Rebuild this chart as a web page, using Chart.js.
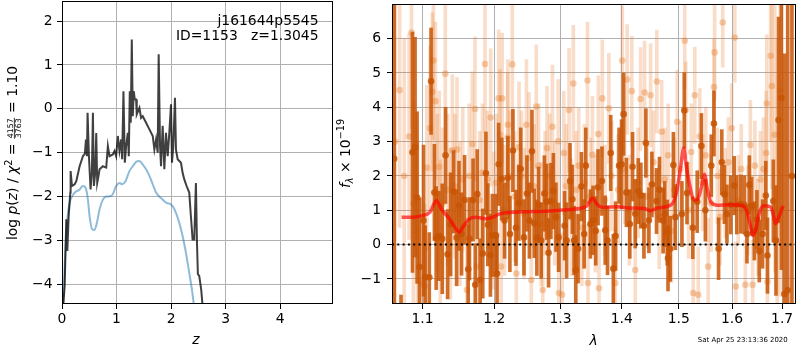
<!DOCTYPE html>
<html><head><meta charset="utf-8">
<script src="https://cdn.jsdelivr.net/npm/chart.js@4"></script>
<style>
html,body{margin:0;padding:0;background:#fff;width:800px;height:350px;overflow:hidden}
#cl{position:absolute;left:0;top:0}
#cr{position:absolute;left:335px;top:0}
</style></head><body>
<canvas id="cl" width="335" height="350"></canvas>
<canvas id="cr" width="465" height="350"></canvas>
<script>
// ---------------- data: left panel (redshift PDF) ----------------
const zBlack = [0.015,0.049,0.079,0.098,0.122,0.152,0.158,0.183,0.232,0.262,0.323,0.384,0.420,0.439,0.457,0.469,0.494,0.524,0.548,0.567,0.585,0.609,0.628,0.646,0.670,0.689,0.750,0.811,0.841,0.871,0.932,0.963,0.993,1.024,1.054,1.085,1.103,1.127,1.152,1.176,1.207,1.225,1.243,1.261,1.280,1.298,1.316,1.335,1.359,1.371,1.420,1.450,1.481,1.542,1.603,1.664,1.694,1.725,1.755,1.773,1.798,1.816,1.846,1.877,1.907,1.938,1.968,1.999,2.017,2.041,2.072,2.090,2.121,2.151,2.182,2.212,2.243,2.285,2.334,2.364,2.395,2.425,2.456,2.474,2.492,2.517,2.553,2.600];
const logpBlack = [-4.6,-4.04,-2.52,-3.24,-2.45,-1.91,-1.42,-1.76,-1.72,-1.65,-1.31,-1.08,-1.02,-0.70,-1.08,-0.09,-1.08,-1.84,-1.46,-0.09,-1.76,-1.46,-0.55,-1.69,-1.53,-1.38,-1.31,-1.34,-0.85,-1.08,-1.04,-0.96,-1.08,-0.62,-0.96,-0.70,-1.15,0.40,-1.23,-0.85,-0.55,-1.08,0.40,-0.32,1.58,-0.17,0.40,0.21,0.21,-0.13,0.02,-0.21,-0.17,-0.32,-0.47,-0.62,-0.93,-0.70,-1.00,1.24,-0.85,-1.31,-0.39,-1.38,-0.55,-1.08,-0.55,0.10,-1.23,-0.85,0.25,-0.93,-1.15,-1.19,-1.23,-1.46,-1.61,-1.76,-1.91,-2.45,-2.98,-2.98,-1.69,-2.98,-3.77,-3.81,-4.12,-4.8];
const zBlue = [0.018,0.049,0.079,0.110,0.140,0.171,0.232,0.323,0.384,0.433,0.475,0.506,0.555,0.597,0.640,0.689,0.750,0.811,0.902,0.945,0.993,1.054,1.103,1.164,1.237,1.298,1.359,1.420,1.481,1.542,1.603,1.664,1.725,1.785,1.846,1.907,1.968,2.029,2.090,2.151,2.212,2.273,2.334,2.383,2.440];
const logpBlue = [-4.6,-3.58,-2.82,-2.37,-2.14,-2.03,-1.91,-1.84,-1.76,-1.80,-2.07,-2.45,-2.75,-2.76,-2.60,-2.29,-2.07,-2.00,-1.99,-1.91,-1.76,-1.69,-1.72,-1.65,-1.42,-1.31,-1.21,-1.19,-1.27,-1.38,-1.53,-1.72,-1.91,-2.00,-2.07,-2.14,-2.16,-2.22,-2.37,-2.60,-2.90,-3.28,-3.74,-4.12,-4.7];
const zTicks = [0,1,2,3,4];
const logpTicks = [-4,-3,-2,-1,0,1,2];
const zRange = [0, 4.97];
const logpRange = [-4.449, 2.456];
const objName = 'j161644p5545';
const idText = 'ID=1153   z=1.3045';
const chi2Num = '4157', chi2Den = '3763', chi2Val = '1.10';

// ---------------- data: right panel (spectrum) ----------------
const lamDark = [1.0630,1.0718,1.0868,1.0902,1.0929,1.0960,1.1014,1.1036,1.1091,1.1115,1.1160,1.1184,1.1221,1.1267,1.1312,1.1340,1.1381,1.1423,1.1464,1.1497,1.1533,1.1575,1.1626,1.1644,1.1695,1.1726,1.1754,1.1795,1.1833,1.1878,1.1906,1.1943,1.1971,1.2024,1.2039,1.2063,1.2108,1.2149,1.2198,1.2228,1.2273,1.2318,1.2359,1.2389,1.2438,1.2483,1.2520,1.2559,1.2595,1.2634,1.2659,1.2700,1.2749,1.2784,1.2814,1.2850,1.2889,1.2929,1.2970,1.3065,1.3097,1.3151,1.3188,1.3216,1.3243,1.3280,1.3334,1.3378,1.3405,1.3480,1.3523,1.3567,1.3605,1.3669,1.3723,1.3762,1.3815,1.3859,1.3897,1.3956,1.3998,1.4033,1.4080,1.4138,1.4185,1.4232,1.4284,1.4329,1.4382,1.4416,1.4469,1.4521,1.4603,1.4655,1.4720,1.4747,1.4794,1.4807,1.4847,1.4904,1.4939,1.5059,1.5102,1.5152,1.5258,1.5340,1.5418,1.5493,1.5604,1.5654,1.5742,1.5803,1.5853,1.5902,1.5976,1.6042,1.6093,1.6173,1.6240,1.6292,1.6339,1.6385,1.6438,1.6490,1.6537,1.6603,1.6668,1.6702,1.6821,1.6875,1.6927,1.6986,1.7047,1.7116,1.7204];
const fDark = [2.5,-2.5,2.69,2.84,1.37,-0.65,0.70,-0.95,-0.95,4.76,1.52,0.19,0.25,0.17,2.60,-0.28,0.59,1.54,0.20,1.13,0.31,1.30,-0.72,0.17,1.30,-1.17,1.47,-1.03,-0.26,2.08,0.58,-0.31,0.27,0.27,-0.84,2.34,1.91,0.70,1.95,0.31,2.74,0.49,1.22,2.20,0.21,1.49,0.70,2.72,0.62,0.20,1.16,0.12,1.49,1.25,-0.24,1.27,1.56,0.80,0.21,0.55,0.12,1.85,1.32,0.12,-0.74,-0.12,1.69,0.31,2.30,0.60,0.71,0.40,1.67,1.85,0.42,0.12,2.67,-0.70,0.25,2.30,2.34,3.80,1.52,0.60,2.27,0.90,1.56,1.43,0.55,2.96,0.71,1.75,1.27,1.60,0.70,0.89,0.35,-0.40,-0.12,2.32,0.80,0.89,3.91,1.50,0.49,1.25,2.87,1.00,2.30,3.53,-0.12,2.40,1.46,0.89,1.16,1.72,1.16,1.18,1.16,0.31,1.74,1.12,0.40,0.73,-0.19,0.31,1.43,-0.32,1.27,0.12,3.63,4.27,-1.44,-1.33,2.0];
const eDark = [6,1.03,3.5,3.2,2.5,2.0,2.2,1.5,1.3,1.55,1.4,1.5,1.3,1.6,1.4,1.3,1.5,1.2,1.4,1.3,1.2,1.3,1.3,1.2,1.2,1.2,1.3,1.2,1.3,1.2,1.2,1.2,1.2,1.2,1.1,1.2,1.2,1.1,1.2,1.1,1.2,1.1,1.1,1.2,1.1,1.1,1.1,1.2,1.0,1.1,1.1,1.1,1.1,1.1,1.0,1.1,1.1,1.0,1.0,1.0,1.1,1.1,1.0,1.0,1.0,1.0,1.0,1.0,1.1,1.0,1.0,1.0,1.1,1.0,1.0,1.0,1.1,1.0,1.0,1.1,1.3,1.2,1.0,1.0,1.0,1.0,0.95,0.95,0.95,1.0,0.95,0.95,0.95,0.95,0.95,0.95,0.95,0.95,0.95,0.95,0.95,0.95,1.1,0.9,0.9,0.9,0.95,0.9,0.9,0.95,0.9,0.95,0.85,0.85,0.85,0.85,0.85,0.85,0.85,0.85,0.85,0.85,0.85,0.85,0.9,1.0,1.0,1.1,1.2,1.6,3.0,5,7,9,9,9];
const lamLight = [1.0640,1.0700,1.0760,1.0823,1.0855,1.0880,1.0934,1.0987,1.1030,1.1059,1.1101,1.1133,1.1146,1.1174,1.1200,1.1225,1.1239,1.1270,1.1308,1.1340,1.1380,1.1405,1.1440,1.1470,1.1510,1.1550,1.1608,1.1640,1.1685,1.1722,1.1746,1.1790,1.1830,1.1865,1.1900,1.1947,1.1990,1.2030,1.2063,1.2084,1.2099,1.2114,1.2150,1.2194,1.2198,1.2230,1.2264,1.2300,1.2324,1.2364,1.2400,1.2440,1.2475,1.2514,1.2549,1.2590,1.2625,1.2660,1.2700,1.2724,1.2760,1.2790,1.2830,1.2874,1.2910,1.2964,1.2974,1.3026,1.3053,1.3090,1.3135,1.3170,1.3204,1.3250,1.3290,1.3340,1.3380,1.3432,1.3440,1.3480,1.3513,1.3560,1.3610,1.3621,1.3675,1.3720,1.3784,1.3830,1.3891,1.3940,1.4010,1.4050,1.4092,1.4130,1.4172,1.4232,1.4280,1.4324,1.4393,1.4440,1.4498,1.4550,1.4608,1.4650,1.4695,1.4750,1.4810,1.4870,1.4920,1.4974,1.5030,1.5110,1.5128,1.5180,1.5230,1.5266,1.5295,1.5359,1.5388,1.5440,1.5500,1.5545,1.5600,1.5654,1.5667,1.5720,1.5770,1.5821,1.5870,1.5930,1.5994,1.6054,1.6074,1.6120,1.6180,1.6260,1.6310,1.6360,1.6405,1.6450,1.6510,1.6560,1.6620,1.6676,1.6688,1.6702,1.6767,1.6790,1.6850,1.6900,1.6960];
const fLight = [3.0,4.5,2.0,3.15,6.18,1.2,0.41,-1.12,-1.22,2.24,3.39,4.45,5.36,4.18,1.5,2.27,0.27,1.2,4.98,1.6,0.6,2.75,1.7,2.77,0.9,1.9,-1.32,2.0,2.93,3.95,-0.64,1.3,2.1,5.26,1.9,3.70,0.7,1.8,4.26,3.20,-0.64,4.26,1.0,3.12,3.49,2.0,5.25,1.4,-0.84,2.84,2.0,0.9,3.49,2.53,-1.03,1.7,4.02,2.3,0.6,-1.32,1.5,2.81,2.0,3.43,1.2,3.01,-1.41,-1.46,2.67,1.7,3.92,0.8,4.69,1.6,2.3,0.5,1.8,4.78,-1.12,1.4,2.62,0.9,3.22,-1.27,4.26,1.3,3.97,2.0,-1.12,1.6,5.36,2.2,4.81,1.0,4.47,-0.74,1.8,4.24,4.43,1.4,4.35,2.4,4.75,0.8,3.29,1.9,2.6,0.4,1.6,3.58,2.2,5.94,3.92,1.0,2.7,-1.41,4.35,-1.46,3.15,1.8,2.6,-0.64,1.2,4.59,5.60,2.0,0.8,6.47,1.5,2.4,3.39,6.03,-1.22,1.3,2.2,-1.17,1.0,2.9,-1.17,2.3,0.5,1.9,2.2,2.67,4.11,-1.08,5.50,4.62,3.2,1.0,4.5];
const eLight = [5.0,4.0,4.0,3.0,2.8,3.0,2.6,2.5,2.4,2.4,2.4,2.3,2.3,2.3,2.3,2.2,2.2,2.2,2.2,2.2,2.2,2.2,2.1,2.1,2.1,2.1,2.1,2.1,2.1,2.1,2.0,2.0,2.0,2.0,2.0,2.0,2.0,2.0,2.0,1.9,1.9,1.9,1.9,1.9,1.9,1.9,1.9,1.9,1.9,1.9,1.9,1.9,1.9,1.9,1.9,1.8,1.8,1.8,1.8,1.8,1.8,1.8,1.8,1.8,1.8,1.8,1.8,1.8,1.8,1.8,1.8,1.7,1.7,1.7,1.7,1.7,1.7,1.7,1.7,1.7,1.7,1.7,1.7,1.7,1.7,1.6,1.6,1.6,1.6,1.6,1.6,1.6,1.6,1.6,1.6,1.6,1.6,1.5,1.5,1.5,1.5,1.5,1.5,1.5,1.5,1.5,1.5,1.5,1.5,1.5,1.4,1.4,1.4,1.4,1.4,1.4,1.4,1.4,1.4,1.4,1.4,1.4,1.4,1.4,1.4,1.4,1.4,1.3,1.3,1.3,1.3,1.3,1.3,1.3,1.3,1.3,1.3,1.3,1.3,1.3,1.4,1.4,1.5,1.8,2.0,2.2,2.5,3.0,4.0,5.0,6.0];
const lamModel = [1.0726,1.0877,1.1008,1.1097,1.1187,1.1254,1.1367,1.1504,1.1550,1.1643,1.1737,1.1879,1.1974,1.2071,1.2265,1.2514,1.2767,1.3024,1.3288,1.3422,1.3514,1.3584,1.3666,1.3943,1.4111,1.4397,1.4484,1.4629,1.4865,1.4954,1.5034,1.5093,1.5135,1.5197,1.5289,1.5349,1.5424,1.5474,1.5535,1.5597,1.5723,1.5913,1.6169,1.6286,1.6353,1.6404,1.6463,1.6530,1.6630,1.6762,1.6817,1.6864,1.6932,1.7020];
const fModel = [0.80,0.80,0.85,0.94,1.28,1.04,0.75,0.37,0.51,0.75,0.80,0.75,0.80,0.89,0.94,0.96,0.97,1.01,1.05,1.13,1.35,1.18,1.09,1.10,1.07,1.05,0.99,1.07,1.16,1.47,2.24,2.81,2.33,1.76,1.30,1.33,1.71,2.05,1.57,1.23,1.15,1.16,1.15,0.99,0.61,0.27,0.41,0.89,1.13,1.10,0.89,0.61,0.80,1.13];
const lamTicks = [1.1,1.2,1.3,1.4,1.5,1.6,1.7];
const fTicks = [-1,0,1,2,3,4,5,6];
const lamRange = [1.06017, 1.72887];
const fRange = [-1.730, 7.0095];
const zeroLevel = 0;
const dateText = 'Sat Apr 25 23:13:36 2020';

// ---------------- styling ----------------
Chart.defaults.font.family = "'DejaVu Sans'";
Chart.defaults.font.size = 13.9;
Chart.defaults.color = '#000';
const FS = 13.9;
const NF = FS + 'px "DejaVu Sans"', IF = 'italic ' + FS + 'px "DejaVu Sans"';
const SF = '9.7px "DejaVu Sans"', SIF = 'italic 9.7px "DejaVu Sans"';
const GRID = '#b0b0b0';
const minus = v => (v < 0 ? '\u2212' : '') + Math.abs(v);

function axisCommon(ticksArr, fitKey, fitVal, pad, fmt) {
  return {
    afterBuildTicks: s => { s.ticks = ticksArr.map(v => ({value: v})); },
    afterFit: s => {
      s[fitKey] = fitVal;
      s.paddingTop = 0; s.paddingBottom = 0; s.paddingLeft = 0; s.paddingRight = 0;
    },
    grid: {color: GRID, lineWidth: 1, tickColor: '#000', tickLength: 5, tickWidth: 1, offset: false},
    border: {display: false},
    ticks: {padding: pad, color: '#000', font: {size: FS}, maxRotation: 0, autoSkip: false, callback: fmt}
  };
}

function drawRich(ctx, segs, x, y, angle) {
  let total = 0;
  for (const s of segs) {
    ctx.font = s.font;
    s.w = s.frac ? Math.max(ctx.measureText(s.frac[0]).width, ctx.measureText(s.frac[1]).width) + 2 : ctx.measureText(s.t).width;
    total += s.w;
  }
  ctx.save();
  ctx.translate(x, y); ctx.rotate(angle);
  ctx.textBaseline = 'alphabetic';
  let cx = -total / 2;
  for (const s of segs) {
    ctx.font = s.font;
    if (s.frac) {
      ctx.textAlign = 'center';
      ctx.fillText(s.frac[0], cx + s.w / 2, -4.0);
      ctx.fillText(s.frac[1], cx + s.w / 2, 3.6);
      ctx.fillRect(cx + 0.5, -3.1, s.w - 1, 0.8);
    } else {
      ctx.textAlign = 'left';
      ctx.fillText(s.t, cx, s.dy || 0);
    }
    cx += s.w;
  }
  ctx.restore();
}

function frame(ctx, a) {
  ctx.strokeStyle = '#000'; ctx.lineWidth = 1;
  ctx.strokeRect(a.left + 0.5, a.top + 0.5, a.right - a.left - 1, a.bottom - a.top - 1);
}

// ---------------- left chart ----------------
const leftText = {
  id: 'leftText',
  afterDraw(chart) {
    const ctx = chart.ctx; ctx.save();
    frame(ctx, chart.chartArea);
    ctx.fillStyle = '#000';
    ctx.font = NF; ctx.textAlign = 'right'; ctx.textBaseline = 'alphabetic';
    ctx.fillText(objName, 318.5, 25);
    ctx.fillText(idText, 318.5, 39.5);
    ctx.font = IF; ctx.textAlign = 'center';
    ctx.fillText('z', 196, 344);
    drawRich(ctx, [
      {t: 'log ', font: NF}, {t: 'p', font: IF}, {t: '(', font: NF}, {t: 'z', font: IF}, {t: ') / ', font: NF},
      {t: '\u03c7', font: IF}, {t: '2', font: SF, dy: -5.5}, {t: ' = ', font: NF},
      {frac: [chi2Num, chi2Den], font: '7.8px "DejaVu Sans"'}, {t: ' = ' + chi2Val, font: NF}
    ], 17, 153, -Math.PI / 2);
    ctx.restore();
  }
};

new Chart(document.getElementById('cl'), {
  type: 'scatter',
  data: {datasets: [
    {type: 'line', data: zBlack.map((z, i) => ({x: z, y: logpBlack[i]})), borderColor: 'rgba(0,0,0,0.75)', borderWidth: 2, pointRadius: 0, tension: 0, clip: 0},
    {type: 'line', data: zBlue.map((z, i) => ({x: z, y: logpBlue[i]})), borderColor: 'rgba(31,119,180,0.5)', borderWidth: 2, pointRadius: 0, cubicInterpolationMode: 'monotone', clip: 0}
  ]},
  options: {
    responsive: false, animation: false, events: [],
    layout: {padding: {left: 0, right: 2, top: 1, bottom: 0}},
    plugins: {legend: {display: false}, tooltip: {enabled: false}},
    scales: {
      x: Object.assign({type: 'linear', min: zRange[0], max: zRange[1]}, axisCommon(zTicks, 'height', 46, 2, v => minus(v))),
      y: Object.assign({type: 'linear', min: logpRange[0], max: logpRange[1]}, axisCommon(logpTicks, 'width', 62, 4.5, v => minus(v)))
    }
  },
  plugins: [leftText]
});

// ---------------- right chart ----------------
const DARK = 'rgba(200,85,5,0.85)';
const LIGHT_BAR = 'rgba(232,125,45,0.26)';
const LIGHT_PT = 'rgba(232,125,45,0.38)';

const rightText = {
  id: 'rightText',
  afterDraw(chart) {
    const ctx = chart.ctx; ctx.save();
    frame(ctx, chart.chartArea);
    ctx.fillStyle = '#000';
    ctx.font = IF; ctx.textAlign = 'center'; ctx.textBaseline = 'alphabetic';
    ctx.fillText('\u03bb', 258.5, 345);
    ctx.font = '6.95px "DejaVu Sans"'; ctx.textAlign = 'right';
    ctx.fillText(dateText, 452.7, 342);
    drawRich(ctx, [
      {t: 'f', font: IF}, {t: '\u03bb', font: SIF, dy: 3}, {t: ' \u00d7 10', font: NF}, {t: '\u221219', font: SF, dy: -5.5}
    ], 14.5, 153.5, -Math.PI / 2);
    ctx.restore();
  }
};

const errData = (lam, f, e) => lam.map((l, i) => ({x: l, y: [f[i] - e[i], f[i] + e[i]]}));
const ptData = (lam, f) => lam.map((l, i) => ({x: l, y: f[i]}));

new Chart(document.getElementById('cr'), {
  type: 'scatter',
  data: {datasets: [
    {type: 'line', order: 0, data: lamRange.map(l => ({x: l, y: zeroLevel})), borderColor: '#000', borderWidth: 2, borderDash: [2, 3.3], pointRadius: 0, clip: 0},
    {type: 'line', order: 1, data: ptData(lamModel, fModel), borderColor: 'rgba(255,0,0,0.65)', borderWidth: 3.5, pointRadius: 0, cubicInterpolationMode: 'monotone', clip: 0},
    {type: 'scatter', order: 2, data: ptData(lamDark, fDark), pointRadius: 3.3, pointBackgroundColor: DARK, pointBorderWidth: 0, clip: 0},
    {type: 'bar', order: 3, data: errData(lamDark, fDark, eDark), backgroundColor: DARK, borderWidth: 0, barThickness: 3, grouped: false, clip: 0},
    {type: 'scatter', order: 4, data: ptData(lamLight, fLight), pointRadius: 3.3, pointBackgroundColor: LIGHT_PT, pointBorderWidth: 0, clip: 0},
    {type: 'bar', order: 5, data: errData(lamLight, fLight, eLight), backgroundColor: LIGHT_BAR, borderWidth: 0, barThickness: 3, grouped: false, clip: 0}
  ]},
  options: {
    responsive: false, animation: false, events: [],
    layout: {padding: {left: 0, right: 1, top: 1, bottom: 0}},
    plugins: {legend: {display: false}, tooltip: {enabled: false}},
    scales: {
      x: Object.assign({type: 'logarithmic', min: lamRange[0], max: lamRange[1], offset: false}, axisCommon(lamTicks, 'height', 46, 2, v => Number(v).toFixed(1))),
      y: Object.assign({type: 'linear', min: fRange[0], max: fRange[1]}, axisCommon(fTicks, 'width', 57, 6, v => minus(v)))
    }
  },
  plugins: [rightText]
});
</script>
</body></html>
